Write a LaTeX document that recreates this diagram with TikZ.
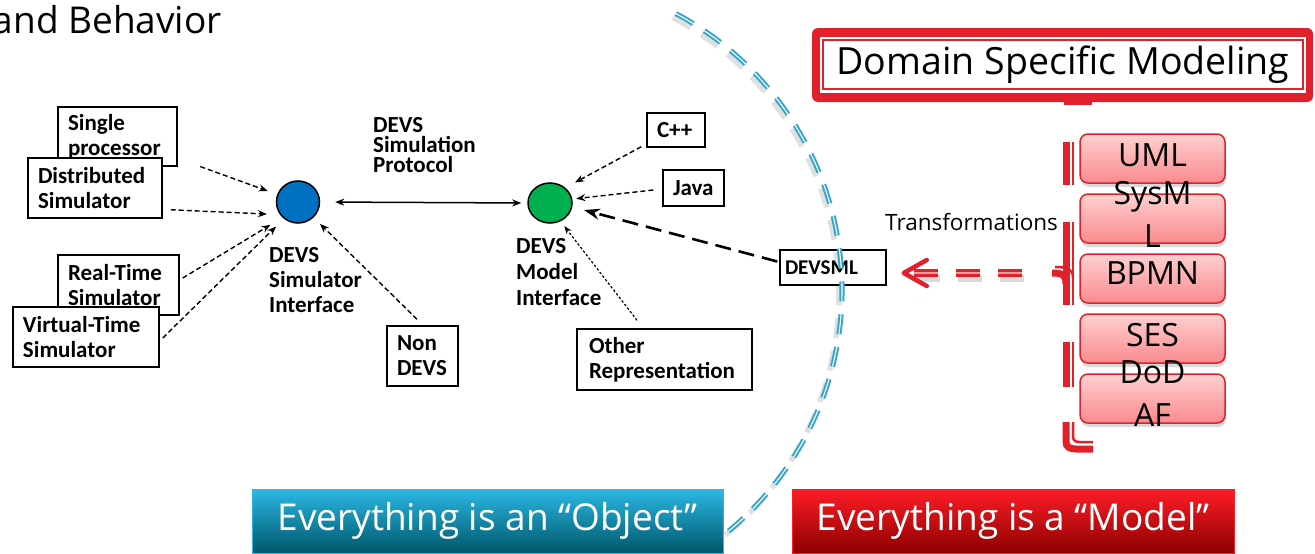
\documentclass[tikz,border=0pt]{standalone}
\usepackage{fontspec}
\setmainfont{Open Sans}
\newfontfamily\calfont{Carlito}
\usetikzlibrary{arrows.meta,calc,shapes.geometric,shadows}
\definecolor{arcblue}{HTML}{33A6CC}
\definecolor{dsred}{HTML}{E0202A}
\definecolor{pinkT}{HTML}{FFD0D0}
\definecolor{pinkB}{HTML}{FA8A8E}
\definecolor{cyT}{HTML}{2BB8E4}
\definecolor{cyB}{HTML}{00566A}
\definecolor{rdT}{HTML}{FF1D26}
\definecolor{rdB}{HTML}{8A0000}
\definecolor{devsblue}{HTML}{0070C0}
\definecolor{devsgreen}{HTML}{00B050}
\begin{document}
\begin{tikzpicture}[x=1pt,y=-1pt,
  box/.style={draw=black, line width=1.5pt, fill=white, font=\calfont\bfseries\fontsize{23}{25}\selectfont, align=left, inner xsep=10pt, inner ysep=0pt},
  lbl/.style={font=\calfont\bfseries\fontsize{23}{25}\selectfont, align=left, inner sep=0pt, anchor=north west},
  dsh/.style={line width=1.4pt, dash pattern=on 5pt off 3pt, -{Stealth[length=9pt,width=7pt]}},
  dotarr/.style={line width=1.2pt, dash pattern=on 2.5pt off 2pt, -{Stealth[length=8pt,width=6pt]}},
  biarr/.style={line width=1.5pt, {Stealth[length=9pt,width=7pt]}-{Stealth[length=9pt,width=7pt]}},
  longarr/.style={line width=2.6pt, dash pattern=on 16pt off 8pt, -{Stealth[length=16pt,width=11pt]}},
  devsnode/.style={ellipse, draw=black, line width=1.5pt, inner sep=0pt},
  pinkbox/.style={draw=dsred, line width=1.5pt, rounded corners=8pt, top color=pinkT, bottom color=pinkB, minimum width=145pt, minimum height=49pt, inner sep=0pt, drop shadow={shadow xshift=1pt, shadow yshift=-4pt, opacity=.3}},
  pinktxt/.style={font=\fontsize{32}{43}\selectfont, align=center, inner sep=0pt},
  bigbox/.style={minimum height=64pt, inner sep=0pt, text=white, font=\fontsize{37}{44}\selectfont},
  arcline/.style={draw=arcblue, line width=2pt, double=white, double distance=1.1pt, dash pattern=on 20pt off 13pt},
  arcshadow/.style={draw=black, opacity=.12, line width=5.5pt, dash pattern=on 20pt off 13pt},
  redline/.style={draw=dsred, line width=3pt, double=white!55!dsred, double distance=1.5pt, dash pattern=on 24pt off 18pt},
  bracethick/.style={draw=dsred, line width=7pt},
  bracethin/.style={draw=dsred, line width=2.5pt},
]
\useasboundingbox (0,0) rectangle (1315,554);

% title fragment
\node[font=\fontsize{37}{44}\selectfont, anchor=base east, inner sep=0pt] (title) at (222,33) {and Behavior};

% left boxes
\node[box, minimum width=119pt, minimum height=59pt, text width=99pt] (sp) at (117.5,136.5) {Single\\processor};
\node[box, minimum width=134pt, minimum height=60pt, text width=114pt] (ds) at (95,188) {Distributed\\Simulator};
\node[box, minimum width=121pt, minimum height=60pt, text width=101pt] (rt) at (118.5,285) {Real-Time\\Simulator};
\node[box, minimum width=146pt, minimum height=60pt, text width=126pt] (vt) at (86,337) {Virtual-Time\\Simulator};
\node[box, minimum width=71pt, minimum height=60pt, text width=51pt] (nd) at (422.5,356) {Non\\DEVS};
\node[box, minimum width=58pt, minimum height=34pt, text width=38pt] (cpp) at (676,130) {C++};
\node[box, minimum width=61pt, minimum height=36pt, text width=41pt] (jv) at (693.5,188) {Java};
\node[box, minimum width=175pt, minimum height=61pt, text width=151pt, inner xsep=12pt] (orep) at (664.5,359.5) {Other\\Representation};
\node[box, minimum width=106pt, minimum height=35pt, text width=96pt, inner xsep=5pt, font=\calfont\bfseries\fontsize{21}{24}\selectfont] (dm) at (833,267.5) {DEVSML};

% interfaces
\node[devsnode, fill=devsblue, minimum width=43pt, minimum height=42pt] (blue) at (298,202) {};
\node[devsnode, fill=devsgreen, minimum width=44pt, minimum height=40pt] (green) at (550,203) {};
\node[lbl] (lsim) at (269,247) {DEVS\\Simulator\\Interface};
\node[lbl, font=\calfont\bfseries\fontsize{23}{26}\selectfont] (lmod) at (516,238) {DEVS\\Model\\Interface};
\node[lbl, font=\calfont\bfseries\fontsize{23}{20}\selectfont] (lprot) at (373,117) {DEVS\\Simulation\\Protocol};

% connectors
\draw[dsh, shorten <=24pt, shorten >=10pt] (sp) -- (blue);
\draw[dsh, shorten >=13pt] ($(ds.south east)+(8,-9)$) -- (blue.215);
\draw[dsh, shorten >=14pt] ($(rt.east)+(3,-7)$) -- (blue.225);
\draw[dsh, shorten >=11pt] ($(vt.east)+(3,1)$) -- (blue.230);
\draw[dsh, shorten >=9pt] ($(nd.north)+(-5.5,-6)$) -- (blue.-45);
\draw[dsh, shorten >=11pt] ($(cpp.south west)+(-5,-1)$) -- (green.45);
\draw[dsh, shorten >=4pt] ($(jv.west)+(-9,2)$) -- (green.10);
\draw[dotarr, shorten >=6pt] ($(orep.north)+(-27.5,-8)$) -- (green.-60);
\draw[longarr, shorten >=12pt] ($(dm.west)+(-2,-6)$) -- (green.-10);
\draw[biarr, shorten <=15pt, shorten >=6pt] (blue.east) -- (green.west);

% Domain specific modeling
\node[fill=dsred, rounded corners=6pt, minimum width=501pt, minimum height=74pt, inner sep=0pt] (dsmo) at (1062.5,65) {};
\node[fill=white, minimum width=486pt, minimum height=56pt, inner sep=0pt] (dsmw) at (1063,65) {};
\node[draw=dsred, line width=1.5pt, minimum width=480pt, minimum height=49pt, inner sep=0pt, font=\fontsize{37.5}{40}\selectfont] (dsm) at (1063,64.5) {Domain Specific Modeling};
\fill[dsred] (1064,101) rectangle (1092,105);

% brace
\draw[bracethick] (1066,142) -- (1066,185);
\draw[bracethick] (1066,222) -- (1066,305);
\draw[bracethick] (1052,273) .. controls (1064,273) and (1066,276) .. (1066,284);
\draw[bracethick] (1066,342) -- (1066,387);
\draw[bracethick] (1066,422) -- (1066,442) .. controls (1066,447) and (1070,449) .. (1076,449) -- (1093,449);
\draw[bracethin] (1073,142) -- (1073,185);
\draw[bracethin] (1073,222) -- (1073,305);
\draw[bracethin] (1055,267) .. controls (1068,267) and (1073,269) .. (1073,278);
\draw[bracethin] (1073,342) -- (1073,387);
\draw[bracethin] (1073,422) -- (1073,436) .. controls (1073,440) and (1075,442) .. (1079,442) -- (1093,442);

% pink boxes
\node[pinkbox] (uml) at (1152.5,158.5) {};
\node[pinkbox] (sysml) at (1152.5,218.5) {};
\node[pinkbox] (bpmn) at (1152.5,278.5) {};
\node[pinkbox] (ses) at (1152.5,338.5) {};
\node[pinkbox] (dod) at (1152.5,398.5) {};
\node[pinktxt] (umlt) at ($(uml)+(0,-3.5)$) {UML};
\node[pinktxt] (sysmlt) at ($(sysml)+(0,-4.5)$) {SysM\\L};
\node[pinktxt] (bpmnt) at ($(bpmn)+(0,-5)$) {BPMN};
\node[pinktxt] (sest) at ($(ses)+(0,-3.5)$) {SES};
\node[pinktxt] (dodt) at ($(dod)+(0,-4.5)$) {DoD\\AF};

\node[font=\fontsize{22.5}{26}\selectfont, anchor=base west, inner sep=0pt] (tr) at (885,230) {Transformations};

% red transformation arrow
\coordinate (bt) at (1053,273);
\draw[draw=black, opacity=.15, line width=7pt, dash pattern=on 24pt off 18pt, shorten <=31pt, shorten >=26pt] ($(bt)+(2,5)$) -- ($(dm.east |- bt)+(2,5)$);
\draw[redline, shorten <=31pt, shorten >=26pt] (bt) -- (dm.east |- bt);
\draw[dsred, line width=4.5pt, line cap=round, line join=round] ($(dm.east |- bt)+(40,-13)$) -- ($(dm.east |- bt)+(17,0)$) -- ($(dm.east |- bt)+(40,13)$);

% dashed boundary arc
\draw[arcshadow] (526,294) ++(-62:313) arc[start angle=-62, end angle=51, radius=313];
\draw[arcline] (529,290) ++(-62:313) arc[start angle=-62, end angle=51, radius=313];

% bottom banners
\node[bigbox, minimum width=471pt, draw=cyT, line width=1pt, top color=cyT, bottom color=cyB] (obj) at (487.5,521) {Everything is an “Object”};
\node[bigbox, minimum width=442pt, draw=rdT, line width=1pt, top color=rdT, bottom color=rdB] (mdl) at (1013,521) {Everything is a “Model”};
\end{tikzpicture}
\end{document}
